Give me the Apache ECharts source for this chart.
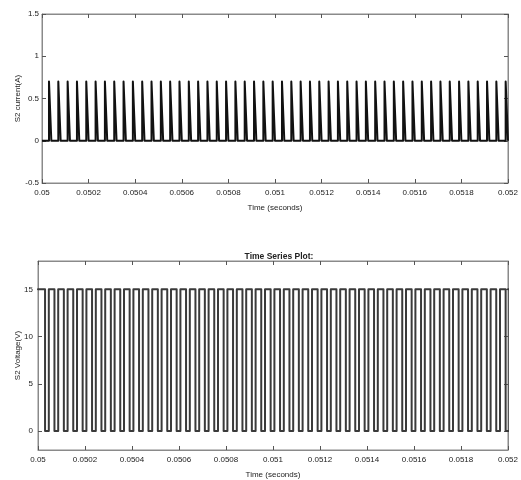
<!DOCTYPE html>
<html>
<head>
<meta charset="utf-8">
<script src="https://cdn.jsdelivr.net/npm/echarts@6/dist/echarts.min.js"></script>
<style>
  html, body { margin: 0; padding: 0; background: #fff; }
  #main { width: 521px; height: 480px; }
</style>
</head>
<body>
<div id="main"></div>
<script>
// switching instants (s)
var pulseTimes = [
  0.05003, 0.05007, 0.05011, 0.05015, 0.05019, 0.05023, 0.05027, 0.05031, 0.05035, 0.05039,
  0.05043, 0.05047, 0.05051, 0.05055, 0.05059, 0.05063, 0.05067, 0.05071, 0.05075, 0.05079,
  0.05083, 0.05087, 0.05091, 0.05095, 0.05099, 0.05103, 0.05107, 0.05111, 0.05115, 0.05119,
  0.05123, 0.05127, 0.05131, 0.05135, 0.05139, 0.05143, 0.05147, 0.05151, 0.05155, 0.05159,
  0.05163, 0.05167, 0.05171, 0.05175, 0.05179, 0.05183, 0.05187, 0.05191, 0.05195, 0.05199
]
var currentPeak = 0.7      // A
var currentFall = 0.00001  // s, decay time of each current spike
var voltageHigh = 15       // V
var voltageLow = 0
var lowTime = 0.000016     // s, time S2 stays at 0 V
var timeRange = [0.05, 0.052]
var currentTicks = [-0.5, 0, 0.5, 1, 1.5]
var voltageTicks = [0, 5, 10, 15]

var currentData = [[timeRange[0], 0]]
pulseTimes.forEach(function (t) {
  currentData.push([t, 0], [t, currentPeak], [t + currentFall, 0])
})
currentData.push([timeRange[1], 0])

var voltageData = [[timeRange[0], voltageHigh]]
pulseTimes.forEach(function (t) {
  voltageData.push([t, voltageHigh], [t, voltageLow], [t + lowTime, voltageLow], [t + lowTime, voltageHigh])
})
voltageData.push([timeRange[1], voltageHigh])

var font = 'Liberation Sans'
var textColor = '#222'
var boxColor = '#8a8a8a'

function timeLabel(v) {
  return parseFloat(v.toFixed(4)).toString()
}

function xAx(grid, pos, labels, name, gap) {
  return {
    type: 'value', gridIndex: grid, position: pos,
    min: timeRange[0], max: timeRange[1], interval: 0.0002,
    name: name || '', nameLocation: 'middle', nameGap: gap || 0,
    nameTextStyle: { fontFamily: font, fontSize: 8, color: textColor },
    axisLine: { show: true, onZero: false, lineStyle: { color: boxColor, width: 1 } },
    axisTick: { show: true, inside: true, length: 4, lineStyle: { color: '#555' } },
    axisLabel: { show: labels, fontFamily: font, fontSize: 8, color: textColor, margin: 6, formatter: timeLabel },
    splitLine: { show: false }
  }
}

var myChart = echarts.init(document.getElementById('main'))

var option = {
  animation: false,
  backgroundColor: '#fff',
  title: {
    text: 'Time Series Plot:',
    left: 274, top: 247, textAlign: 'center',
    textStyle: { fontFamily: font, fontSize: 8.5, fontWeight: 'bold', color: textColor }
  },
  grid: [
    { left: 42, top: 14, width: 469, height: 169, show: true, borderColor: boxColor, borderWidth: 1 },
    { left: 38, top: 261, width: 471, height: 189, show: true, borderColor: boxColor, borderWidth: 1 }
  ],
  xAxis: [
    xAx(0, 'bottom', true, 'Time (seconds)', 21),
    xAx(0, 'top', false),
    xAx(1, 'bottom', true, 'Time (seconds)', 21),
    xAx(1, 'top', false)
  ],
  yAxis: [
    {
      type: 'value', gridIndex: 0, position: 'left',
      min: currentTicks[0], max: currentTicks[currentTicks.length - 1], interval: 0.5,
      name: 'S2 current(A)', nameLocation: 'middle', nameGap: 20, nameMoveOverlap: false,
      nameTextStyle: { fontFamily: font, fontSize: 8, color: textColor },
      axisLine: { show: true, lineStyle: { color: boxColor } },
      axisTick: { show: true, inside: true, length: 4, lineStyle: { color: '#555' } },
      axisLabel: { fontFamily: font, fontSize: 8, color: textColor, margin: 3 },
      splitLine: { show: false }
    },
    {
      type: 'value', gridIndex: 0, position: 'right',
      min: currentTicks[0], max: currentTicks[currentTicks.length - 1], interval: 0.5,
      axisLine: { show: true, lineStyle: { color: boxColor } },
      axisTick: { show: true, inside: true, length: 4, lineStyle: { color: '#555' } },
      axisLabel: { show: false },
      splitLine: { show: false }
    },
    {
      type: 'value', gridIndex: 1, position: 'left',
      min: -2, max: 18,
      name: 'S2 Voltage(V)', nameLocation: 'middle', nameGap: 16, nameMoveOverlap: false,
      nameTextStyle: { fontFamily: font, fontSize: 8, color: textColor },
      axisLine: { show: true, lineStyle: { color: boxColor } },
      axisTick: { show: true, inside: true, length: 4, customValues: voltageTicks, lineStyle: { color: '#555' } },
      axisLabel: { fontFamily: font, fontSize: 8, color: textColor, margin: 5, customValues: voltageTicks },
      splitLine: { show: false }
    },
    {
      type: 'value', gridIndex: 1, position: 'right',
      min: -2, max: 18,
      axisLine: { show: true, lineStyle: { color: boxColor } },
      axisTick: { show: true, inside: true, length: 4, customValues: voltageTicks, lineStyle: { color: '#555' } },
      axisLabel: { show: false, customValues: voltageTicks },
      splitLine: { show: false }
    }
  ],
  series: [
    {
      type: 'line', xAxisIndex: 0, yAxisIndex: 0,
      data: currentData, showSymbol: false, symbol: 'none',
      lineStyle: { color: '#111', width: 2, join: 'round' }
    },
    {
      type: 'line', xAxisIndex: 2, yAxisIndex: 2,
      data: voltageData, showSymbol: false, symbol: 'none',
      lineStyle: { color: '#3a3a3a', width: 2, join: 'round', cap: 'round' }
    }
  ]
}

myChart.setOption(option)
</script>
</body>
</html>
